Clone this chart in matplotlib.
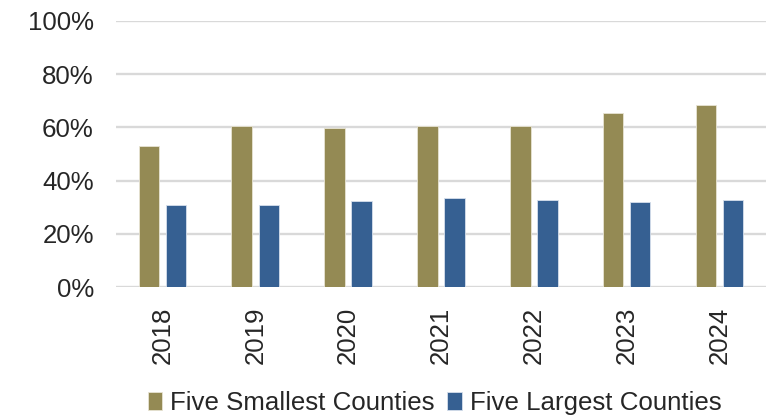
import numpy as np
import matplotlib.pyplot as plt

plt.rcParams['font.family'] = ['Liberation Sans', 'DejaVu Sans']

years = ["2018", "2019", "2020", "2021", "2022", "2023", "2024"]
smallest = [53.1, 60.4, 59.9, 60.4, 60.4, 65.4, 68.5]
largest = [30.9, 30.9, 32.3, 33.4, 32.7, 32.1, 32.7]

olive = "#948A54"
blue = "#366092"

fig = plt.figure(figsize=(7.66, 4.18), dpi=100)
ax = fig.add_axes([0.1514, 0.3127, 0.8486, 0.6378])

x = np.arange(len(years))
w = 0.22
ax.bar(x - 0.146, smallest, w, color=olive, edgecolor="#E8E4D4", linewidth=0.6,
       label="Five Smallest Counties", zorder=3)
ax.bar(x + 0.146, largest, w, color=blue, edgecolor="#D6E0EC", linewidth=0.6,
       label="Five Largest Counties", zorder=3)

ax.set_xlim(-0.5, len(years) - 0.5)
ax.set_ylim(0, 100)
ax.set_yticks(range(0, 101, 20))
ax.set_yticklabels([f"{v}%" for v in range(0, 101, 20)])
ax.set_xticks(x)
ax.set_xticklabels(years, rotation=90)

# light horizontal gridlines only, no spines or ticks
ax.yaxis.grid(True, color="#D9D9D9", linewidth=1.7, zorder=0)
ax.set_axisbelow(True)
for s in ax.spines.values():
    s.set_visible(False)
ax.tick_params(axis="both", length=0, labelsize=18.6, colors="#262626")
ax.tick_params(axis="y", pad=16)
ax.tick_params(axis="x", pad=14)

fig.legend(loc="center", bbox_to_anchor=(434.5 / 766, 1 - 403 / 418), ncol=2,
           frameon=False, fontsize=18.6, handlelength=0.56, handleheight=0.7,
           handletextpad=0.32, columnspacing=0.48, labelcolor="#262626")

fig.savefig("out.png", dpi=100)
